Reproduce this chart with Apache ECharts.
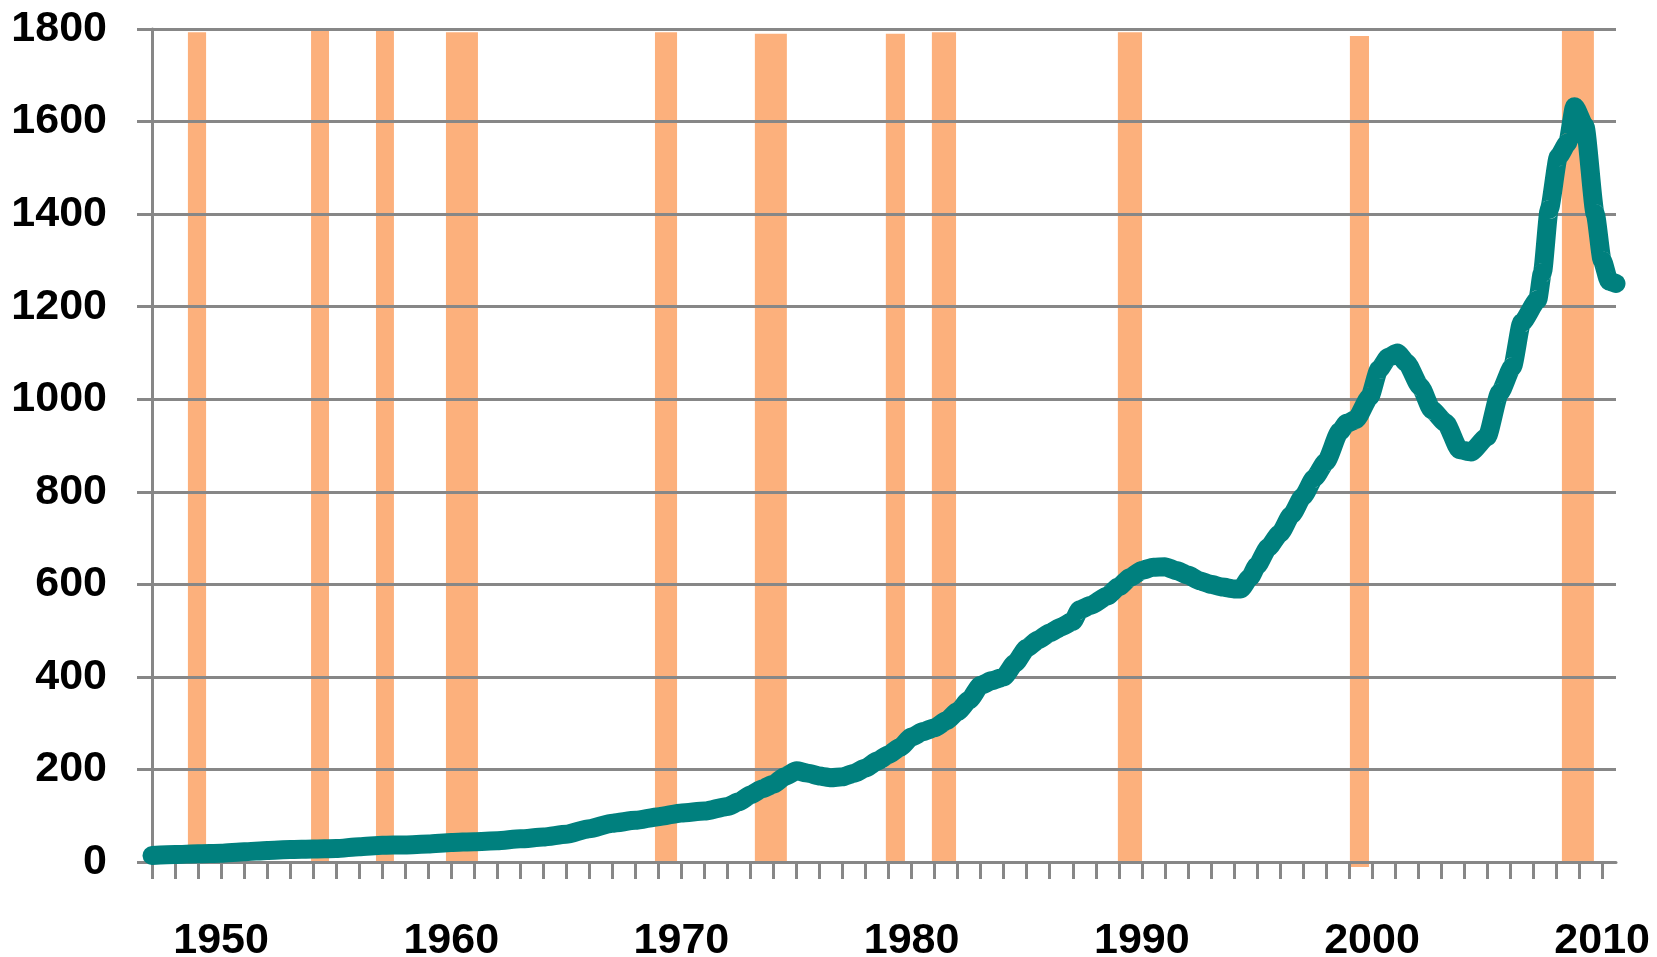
<!DOCTYPE html>
<html>
<head>
<meta charset="utf-8">
<title>chart</title>
<script src="https://cdn.jsdelivr.net/npm/echarts@6/dist/echarts.min.js"></script>
<style>
    html, body { margin: 0; padding: 0; background: #fff; }
    #chart { width: 1657px; height: 957px; }
</style>
</head>
<body>
<div id="chart"></div>
<script>
    // 折线数据 (年份 / 数值)
    var years = [
        1947, 1948, 1949, 1950, 1951, 1952, 1953, 1954, 1955, 1956,
        1957, 1958, 1959, 1960, 1961, 1962, 1963, 1964, 1965, 1966,
        1967, 1968, 1969, 1970, 1971, 1972, 1972.5, 1973, 1973.5, 1974,
        1974.5, 1975, 1975.5, 1976, 1976.5, 1977, 1977.5, 1978, 1978.5, 1979,
        1979.5, 1980, 1980.5, 1981, 1981.5, 1982, 1982.5, 1983, 1983.5, 1984,
        1984.5, 1985, 1985.5, 1986, 1986.5, 1987, 1987.3, 1987.8, 1988.5, 1989,
        1989.5, 1990, 1990.5, 1991, 1991.5, 1992, 1992.5, 1993, 1993.5, 1994,
        1994.3, 1994.7, 1995, 1995.5, 1996, 1996.5, 1997, 1997.5, 1998, 1998.6,
        1998.9, 1999.3, 1999.9, 2000.3, 2000.7, 2001.1, 2001.5, 2002.1, 2002.6, 2003.2,
        2003.8, 2004.3, 2005, 2005.55, 2006.1, 2006.5, 2007.2, 2007.4, 2007.7, 2008.1,
        2008.5, 2008.8, 2009.25, 2009.7, 2010.0, 2010.3, 2010.6
    ];
    var values = [
        14, 16, 18, 19, 22, 25, 27, 28, 29, 33,
        36, 37, 39, 42, 44, 46, 50, 54, 60, 72,
        84, 90, 98, 106, 110, 120, 130, 145, 158, 168,
        185, 197, 192, 186, 182, 184, 192, 203, 218, 232,
        248, 270, 282, 290, 305, 325, 350, 382, 392, 400,
        430, 462, 480, 495, 508, 520, 545, 555, 575, 595,
        615, 630, 637, 638, 630, 620, 608, 600, 594, 590,
        590, 615, 640, 680, 710, 750, 790, 830, 865, 930,
        948, 956, 1005, 1064, 1090, 1100, 1079, 1027, 977, 949,
        891, 886, 919, 1014, 1070, 1165, 1215, 1273, 1410, 1524,
        1554, 1632, 1590, 1400, 1300, 1255, 1250
    ];

    // 橙色竖条 (起止年份, 顶部, 底部)
    var recStart = [1948.56, 1953.91, 1956.73, 1959.77, 1968.85, 1973.19, 1978.88, 1980.88, 1988.96, 1999.04, 2008.25];
    var recEnd   = [1949.35, 1954.69, 1957.51, 1961.16, 1969.81, 1974.58, 1979.71, 1981.93, 1990.01, 1999.87, 2009.64];
    var recTop   = [1793, 1800, 1800, 1793, 1793, 1790, 1790, 1793, 1793, 1785, 1800];
    var recBottom = [0, 0, 0, 0, 0, 0, 0, 0, 0, -11, 0];

    // 坐标轴刻度
    var tickYears = [];
    for (var y = 1947; y <= 2010; y++) {
        tickYears.push(y);
    }
    var labelYears = [1950, 1960, 1970, 1980, 1990, 2000, 2010];

    var lineData = years.map(function (yr, i) { return [yr, values[i]]; });
    var recData = recStart.map(function (s, i) { return [s, recEnd[i], recTop[i], recBottom[i]]; });

    var gray = '#878787';
    var labelFont = {
        color: '#000',
        fontFamily: 'Liberation Sans',
        fontWeight: 'bold',
        fontSize: 43,
        formatter: function (v) { return String(v); }
    };

    var myChart = echarts.init(document.getElementById('chart'));
    myChart.setOption({
        animation: false,
        grid: {
            left: 152,
            right: 41,
            top: 29,
            bottom: 95,
            containLabel: false,
            outerBoundsMode: 'none'
        },
        xAxis: {
            type: 'value',
            min: 1947,
            max: 2010.6,
            interval: 1,
            axisLine: { show: true, lineStyle: { color: gray, width: 3 } },
            axisTick: {
                show: true,
                length: 17,
                customValues: tickYears,
                lineStyle: { color: gray, width: 3 }
            },
            axisLabel: Object.assign({
                customValues: labelYears,
                margin: 58
            }, labelFont),
            splitLine: { show: false }
        },
        yAxis: {
            type: 'value',
            min: 0,
            max: 1800,
            interval: 200,
            axisLine: { show: true, lineStyle: { color: gray, width: 3 } },
            axisTick: { show: true, length: 15, lineStyle: { color: gray, width: 3 } },
            axisLabel: Object.assign({ margin: 45 }, labelFont),
            splitLine: { show: true, lineStyle: { color: gray, width: 3 } }
        },
        series: [
            {
                type: 'custom',
                z: -1,
                data: recData,
                renderItem: function (params, api) {
                    var p0 = api.coord([api.value(0), api.value(2)]);
                    var p1 = api.coord([api.value(1), api.value(3)]);
                    return {
                        type: 'rect',
                        shape: { x: p0[0], y: p0[1], width: p1[0] - p0[0], height: p1[1] - p0[1] },
                        style: { fill: '#FCB07C' }
                    };
                }
            },
            {
                type: 'line',
                z: 5,
                data: lineData,
                showSymbol: false,
                smooth: 0.2,
                smoothMonotone: 'x',
                lineStyle: { color: '#00807E', width: 19, cap: 'round', join: 'round' }
            }
        ]
    });
</script>
</body>
</html>
